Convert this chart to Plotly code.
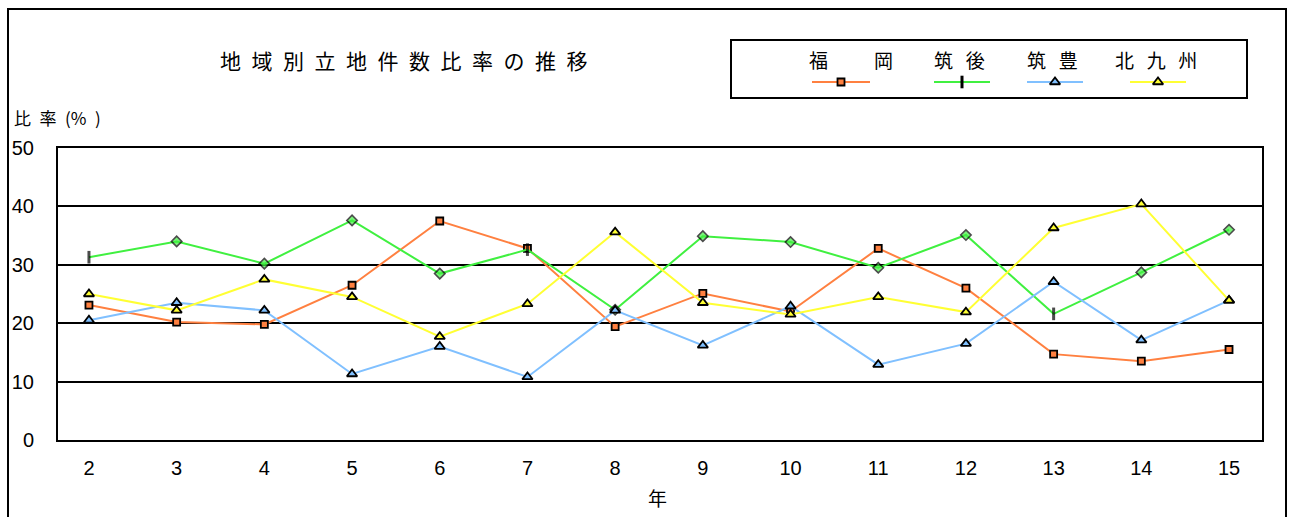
import plotly.graph_objects as go

# ---------------- data ----------------
years = [2, 3, 4, 5, 6, 7, 8, 9, 10, 11, 12, 13, 14, 15]
fukuoka = [23.1, 20.2, 19.8, 26.5, 37.5, 32.8, 19.4, 25.1, 22.0, 32.8, 26.0, 14.7, 13.5, 15.5]
chikugo = [31.3, 34.0, 30.2, 37.6, 28.5, 32.6, 22.3, 34.9, 33.9, 29.5, 35.1, 21.6, 28.7, 36.0]
chikuho = [20.5, 23.5, 22.2, 11.3, 16.0, 10.8, 22.2, 16.2, 22.9, 12.9, 16.5, 27.1, 17.1, 23.9]
kitakyushu = [25.0, 22.2, 27.5, 24.5, 17.7, 23.3, 35.6, 23.5, 21.5, 24.5, 21.9, 36.3, 40.4, 23.9]
series_names = ["福岡", "筑後", "筑豊", "北九州"]
legend_labels = ["福\u3000\u3000\u2005\u2006岡", "筑\u2002\u2006後", "筑\u2002\u2006豊", "北\u2002\u2006九\u2002\u2006州"]
y_ticks = [0, 10, 20, 30, 40, 50]
title_text = "地域別立地件数比率の推移"
y_title = "比\u2002率\u2002(%\u2002)"
x_title = "年"

# ---------------- layout helpers ----------------
W, H = 1292, 517
def fx(px):
    return px / W
def fy(py):
    return 1 - py / H

CJK = "Noto Sans CJK JP"
NUM = "Liberation Sans, Arial, sans-serif"

green_symbols = ["line-ns", "diamond", "diamond", "diamond", "diamond", "line-ns", "diamond",
                 "diamond", "diamond", "diamond", "diamond", "line-ns", "diamond", "diamond"]
green_lw = [3 if s == "line-ns" else 1.6 for s in green_symbols]
green_sz = [9 if s == "line-ns" else 8 for s in green_symbols]

styles = [
    dict(color="#FF8040", symbol="square", size=7, lw=1.8, fill="#FF8040"),
    dict(color="#40F040", symbol=green_symbols, size=green_sz, lw=green_lw, fill="#40F040"),
    dict(color="#80C0FF", symbol="triangle-up", size=9, lw=1.8, fill="#80C0FF"),
    dict(color="#FFFF33", symbol="triangle-up", size=9, lw=1.8, fill="#FFFF33"),
]
series = [fukuoka, chikugo, chikuho, kitakyushu]

fig = go.Figure()
for name, vals, st in zip(series_names, series, styles):
    fig.add_trace(go.Scatter(
        x=years, y=vals, name=name, mode="lines+markers",
        line=dict(color=st["color"], width=2),
        marker=dict(symbol=st["symbol"], size=st["size"], color=st["fill"],
                    line=dict(color="black", width=st["lw"])),
        showlegend=False, cliponaxis=False,
    ))

# ---------------- custom legend (on a helper pixel axis) ----------------
leg_line_x = [(812, 870), (934, 990), (1027, 1083), (1130, 1186)]
leg_text_x = [851, 959, 1052, 1156]
leg_line_y = 82
for (x0, x1), st, lab, tx in zip(leg_line_x, styles, legend_labels, leg_text_x):
    fig.add_trace(go.Scatter(x=[x0, x1], y=[leg_line_y, leg_line_y], mode="lines",
                             line=dict(color=st["color"], width=2),
                             xaxis="x2", yaxis="y2", showlegend=False, hoverinfo="skip"))
    sym = st["symbol"][0] if isinstance(st["symbol"], list) else st["symbol"]
    sz = st["size"][0] if isinstance(st["size"], list) else st["size"]
    lw = st["lw"][0] if isinstance(st["lw"], list) else st["lw"]
    fig.add_trace(go.Scatter(x=[(x0 + x1) / 2], y=[leg_line_y], mode="markers",
                             marker=dict(symbol=sym, size=sz, color=st["fill"],
                                         line=dict(color="black", width=lw)),
                             xaxis="x2", yaxis="y2", showlegend=False, hoverinfo="skip",
                             cliponaxis=False))
    fig.add_annotation(x=tx, y=60, xref="x2", yref="y2", text=lab, showarrow=False,
                       font=dict(family=CJK, size=19, color="black"),
                       xanchor="center", yanchor="middle")

fig.update_layout(
    width=W, height=H,
    margin=dict(l=0, r=0, t=0, b=0),
    paper_bgcolor="white", plot_bgcolor="white",
    showlegend=False,
    xaxis=dict(domain=[fx(58), fx(1262)], range=[1.647, 15.376], tickmode="array",
               tickvals=years, ticktext=[str(v) for v in years], showgrid=False,
               zeroline=False, showline=True, linecolor="black", linewidth=2, mirror=True,
               ticks="", ticklabelstandoff=9, automargin=False,
               tickfont=dict(family=NUM, size=20, color="black")),
    yaxis=dict(domain=[fy(440), fy(148)], range=[0, 50], tickmode="array", tickvals=y_ticks,
               showgrid=True, gridcolor="black", gridwidth=2, zeroline=False,
               showline=True, linecolor="black", linewidth=2, mirror=True,
               ticks="", ticklabelstandoff=18, automargin=False,
               tickfont=dict(family=NUM, size=20, color="black")),
    xaxis2=dict(domain=[fx(731), fx(1247)], range=[731, 1247], visible=False, anchor="y2",
                fixedrange=True),
    yaxis2=dict(domain=[fy(98), fy(40)], range=[98, 40], visible=False, anchor="x2",
                fixedrange=True),
)

# outer frame and legend box
fig.add_shape(type="rect", xref="paper", yref="paper", x0=fx(8), x1=fx(1286), y0=-0.2, y1=fy(9),
              line=dict(color="black", width=2), layer="below")
fig.add_shape(type="rect", xref="paper", yref="paper", x0=fx(731), x1=fx(1247), y0=fy(98), y1=fy(40),
              line=dict(color="black", width=2), layer="below")

# titles
fig.add_annotation(x=fx(404), y=fy(60), xref="paper", yref="paper",
                   text="\u2002".join(list(title_text)), showarrow=False,
                   font=dict(family=CJK, size=21, color="black"), xanchor="center", yanchor="middle")
fig.add_annotation(x=fx(12), y=fy(117), xref="paper", yref="paper", text=y_title, showarrow=False,
                   font=dict(family=CJK, size=17, color="black"), xanchor="left", yanchor="middle")
fig.add_annotation(x=fx(657), y=fy(497), xref="paper", yref="paper", text=x_title, showarrow=False,
                   font=dict(family=CJK, size=19, color="black"), xanchor="center", yanchor="middle")

fig.write_html("out.html")
